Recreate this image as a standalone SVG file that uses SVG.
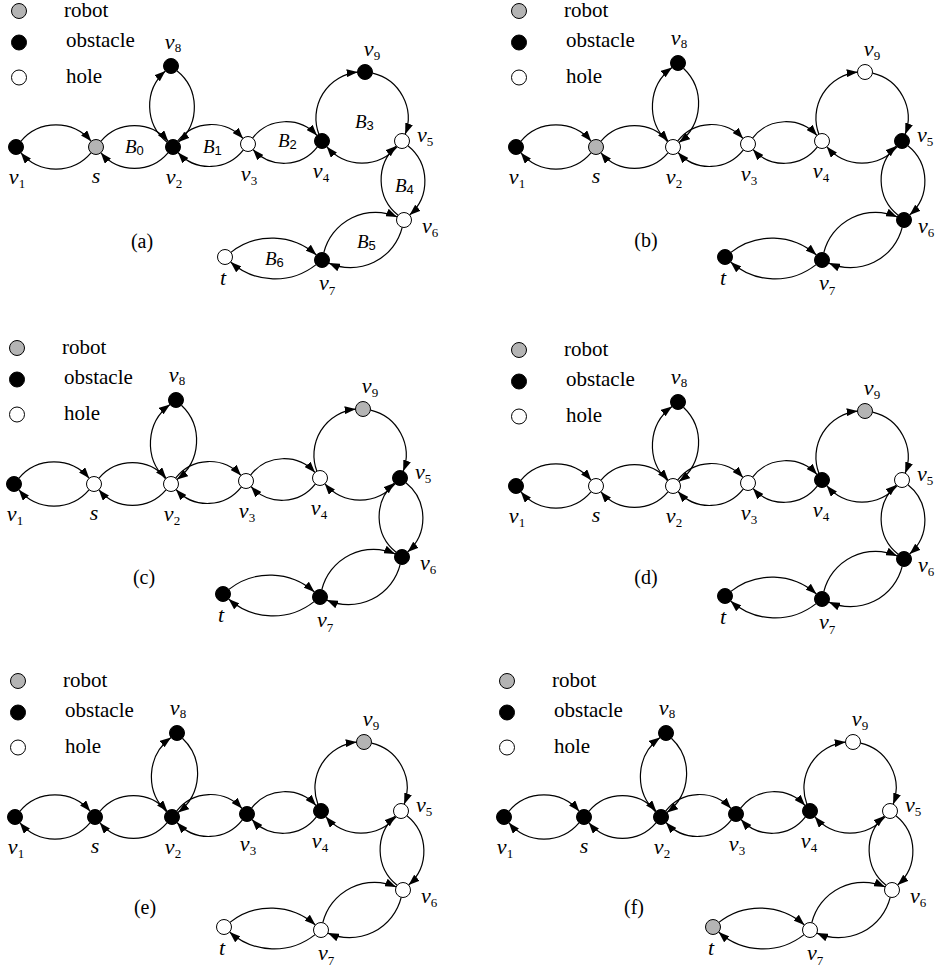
<svg xmlns="http://www.w3.org/2000/svg" xmlns:xlink="http://www.w3.org/1999/xlink" width="936" height="969" viewBox="0 0 936 969">
<style>
.e{fill:none;stroke:#000;stroke-width:1.2;marker-end:url(#ah)}
.n{stroke:#000;stroke-width:1}
.ob{fill:#000}
.ho{fill:#fff}
.ro{fill:#b4b4b4}
.lbl{font-family:"Liberation Serif","Times New Roman",serif;font-style:italic;font-size:22px}
.mid{text-anchor:middle}
.sub{font-style:normal;font-size:13px}
.leg{font-family:"Liberation Serif","Times New Roman",serif;font-size:21px}
.cap{font-family:"Liberation Serif","Times New Roman",serif;font-size:20px;text-anchor:middle}
.B{font-family:"Liberation Serif","Times New Roman",serif;font-style:italic;font-size:19px}
.Bs{font-family:"Liberation Sans",Arial,sans-serif;font-style:normal;font-size:13px}
</style>
<defs>
<marker id="ah" markerUnits="userSpaceOnUse" markerWidth="11" markerHeight="8" refX="11" refY="4" orient="auto" viewBox="0 0 11 8"><path d="M0,0L11,4L0,8z" fill="#000"/></marker>
<g id="edges-common">
<path class="e" d="M18.8,141.3 A45.9,45.9 0 0 1 89.2,141.3"/>
<path class="e" d="M89.2,152.7 A45.9,45.9 0 0 1 18.8,152.7"/>
<path class="e" d="M98.8,141.3 A44,44 0 0 1 166.2,141.3"/>
<path class="e" d="M166.2,152.7 A44,44 0 0 1 98.8,152.7"/>
<path class="e" d="M175.6,141.1 A42.7,42.7 0 0 1 241,138.5"/>
<path class="e" d="M241.4,149.9 A42.7,42.7 0 0 1 176,152.5"/>
<path class="e" d="M250.6,138.1 A42,42 0 0 1 315,135.5"/>
<path class="e" d="M315.4,146.9 A42,42 0 0 1 251,149.5"/>
<path class="e" d="M395.2,146.7 A45.9,45.9 0 0 1 324.8,146.7"/>
<path class="e" d="M405.9,145.7 A45.3,45.3 0 0 1 407.6,215"/>
<path class="e" d="M396.1,215.3 A45.3,45.3 0 0 1 394.4,146"/>
<path class="e" d="M321.8,252.7 A53.3,53.3 0 0 1 395.1,216.9"/>
<path class="e" d="M400.2,227.3 A53.3,53.3 0 0 1 326.9,263.1"/>
<path class="e" d="M228.9,252.4 A66.5,66.5 0 0 1 314.4,255"/>
<path class="e" d="M314.1,264.6 A66.5,66.5 0 0 1 228.6,262"/>
<path class="e" d="M316.9,134.3 A46.1,46.1 0 0 1 355.7,72.1"/>
<path class="e" d="M370.6,73.1 A46.1,46.1 0 0 1 403.2,134.2"/>
</g>
<g id="edges-v8">
<path class="e" d="M165.6,141.8 A48.6,48.6 0 0 1 170,67.5"/>
<path class="e" d="M181.4,68.2 A48.6,48.6 0 0 1 177,142.5"/>
</g>
<g id="legend">
<circle class="n ro" cx="17" cy="11" r="7.5"/>
<circle class="n ob" cx="17" cy="42.5" r="7.5"/>
<circle class="n ho" cx="17" cy="77.5" r="7.5"/>
<text class="leg" x="62" y="17">robot</text>
<text class="leg" x="64" y="47">obstacle</text>
<text class="leg" x="64" y="83">hole</text>
</g>
</defs>

<!-- Panel (a) -->
<g id="panel-a" transform="translate(2,0)">
<use href="#legend" xlink:href="#legend"/>
<g id="a-connectors">
<use href="#edges-common" xlink:href="#edges-common"/>
<path class="e" d="M165.1,142.3 A46.6,46.6 0 0 1 163.4,71"/>
<path class="e" d="M174.9,70.7 A46.6,46.6 0 0 1 176.6,142"/>
</g>
<g id="a-v1"><circle class="n ob" cx="14" cy="147" r="7.5"/><text class="lbl mid" x="15" y="184">v<tspan class="sub" dy="4">1</tspan></text></g>
<g id="a-s"><circle class="n ro" cx="94" cy="147" r="7.5"/><text class="lbl mid" x="94" y="183">s</text></g>
<g id="a-v2"><circle class="n ob" cx="171" cy="147" r="7.5"/><text class="lbl mid" x="172" y="184">v<tspan class="sub" dy="4">2</tspan></text></g>
<g id="a-v8"><circle class="n ob" cx="169" cy="66" r="7.5"/><text class="lbl mid" x="171" y="49">v<tspan class="sub" dy="3">8</tspan></text></g>
<g id="a-v3"><circle class="n ho" cx="246" cy="144" r="7.5"/><text class="lbl mid" x="247" y="181">v<tspan class="sub" dy="4">3</tspan></text></g>
<g id="a-v4"><circle class="n ob" cx="320" cy="141" r="7.5"/><text class="lbl mid" x="319" y="178">v<tspan class="sub" dy="4">4</tspan></text></g>
<g id="a-v9"><circle class="n ob" cx="363" cy="72" r="7.5"/><text class="lbl mid" x="370" y="56">v<tspan class="sub" dy="4">9</tspan></text></g>
<g id="a-v5"><circle class="n ho" cx="400" cy="141" r="7.5"/><text class="lbl" x="415" y="142">v<tspan class="sub" dy="4">5</tspan></text></g>
<g id="a-v6"><circle class="n ho" cx="402" cy="220" r="7.5"/><text class="lbl" x="420" y="233">v<tspan class="sub" dy="4">6</tspan></text></g>
<g id="a-v7"><circle class="n ob" cx="320" cy="260" r="7.5"/><text class="lbl" x="317" y="290">v<tspan class="sub" dy="5">7</tspan></text></g>
<g id="a-t"><circle class="n ho" cx="223" cy="257" r="7.5"/><text class="lbl mid" x="221" y="285">t</text></g>
<g id="a-blocks">
<text class="B" x="123" y="153">B<tspan class="Bs" dy="2">0</tspan></text>
<text class="B" x="201" y="153">B<tspan class="Bs" dy="2">1</tspan></text>
<text class="B" x="276" y="147">B<tspan class="Bs" dy="2">2</tspan></text>
<text class="B" x="353" y="128">B<tspan class="Bs" dy="2">3</tspan></text>
<text class="B" x="393" y="192">B<tspan class="Bs" dy="2">4</tspan></text>
<text class="B" x="355" y="248">B<tspan class="Bs" dy="2">5</tspan></text>
<text class="B" x="263" y="265">B<tspan class="Bs" dy="2">6</tspan></text>
</g>
<text class="cap" x="140" y="248">(a)</text>
</g>

<!-- Panel (b) -->
<g id="panel-b" transform="translate(502,0)">
<use href="#legend" xlink:href="#legend"/>
<g id="b-connectors"><use href="#edges-common" xlink:href="#edges-common"/><use href="#edges-v8" xlink:href="#edges-v8"/></g>
<g id="b-v1"><circle class="n ob" cx="14" cy="147" r="7.5"/><text class="lbl mid" x="15" y="184">v<tspan class="sub" dy="4">1</tspan></text></g>
<g id="b-s"><circle class="n ro" cx="94" cy="147" r="7.5"/><text class="lbl mid" x="94" y="183">s</text></g>
<g id="b-v2"><circle class="n ho" cx="171" cy="147" r="7.5"/><text class="lbl mid" x="172" y="184">v<tspan class="sub" dy="4">2</tspan></text></g>
<g id="b-v8"><circle class="n ob" cx="176" cy="63" r="7.5"/><text class="lbl mid" x="177" y="45">v<tspan class="sub" dy="3">8</tspan></text></g>
<g id="b-v3"><circle class="n ho" cx="246" cy="144" r="7.5"/><text class="lbl mid" x="247" y="181">v<tspan class="sub" dy="4">3</tspan></text></g>
<g id="b-v4"><circle class="n ho" cx="320" cy="141" r="7.5"/><text class="lbl mid" x="319" y="178">v<tspan class="sub" dy="4">4</tspan></text></g>
<g id="b-v9"><circle class="n ho" cx="363" cy="72" r="7.5"/><text class="lbl mid" x="370" y="56">v<tspan class="sub" dy="4">9</tspan></text></g>
<g id="b-v5"><circle class="n ob" cx="400" cy="141" r="7.5"/><text class="lbl" x="415" y="142">v<tspan class="sub" dy="4">5</tspan></text></g>
<g id="b-v6"><circle class="n ob" cx="402" cy="220" r="7.5"/><text class="lbl" x="416" y="233">v<tspan class="sub" dy="4">6</tspan></text></g>
<g id="b-v7"><circle class="n ob" cx="320" cy="260" r="7.5"/><text class="lbl" x="317" y="290">v<tspan class="sub" dy="5">7</tspan></text></g>
<g id="b-t"><circle class="n ob" cx="223" cy="257" r="7.5"/><text class="lbl mid" x="221" y="285">t</text></g>
<text class="cap" x="144" y="247">(b)</text>
</g>

<!-- Panel (c) -->
<g id="panel-c" transform="translate(0,337)">
<use href="#legend" xlink:href="#legend"/>
<g id="c-connectors"><use href="#edges-common" xlink:href="#edges-common"/><use href="#edges-v8" xlink:href="#edges-v8"/></g>
<g id="c-v1"><circle class="n ob" cx="14" cy="147" r="7.5"/><text class="lbl mid" x="15" y="184">v<tspan class="sub" dy="4">1</tspan></text></g>
<g id="c-s"><circle class="n ho" cx="94" cy="147" r="7.5"/><text class="lbl mid" x="94" y="183">s</text></g>
<g id="c-v2"><circle class="n ho" cx="171" cy="147" r="7.5"/><text class="lbl mid" x="172" y="184">v<tspan class="sub" dy="4">2</tspan></text></g>
<g id="c-v8"><circle class="n ob" cx="176" cy="63" r="7.5"/><text class="lbl mid" x="177" y="45">v<tspan class="sub" dy="3">8</tspan></text></g>
<g id="c-v3"><circle class="n ho" cx="246" cy="144" r="7.5"/><text class="lbl mid" x="247" y="181">v<tspan class="sub" dy="4">3</tspan></text></g>
<g id="c-v4"><circle class="n ho" cx="320" cy="141" r="7.5"/><text class="lbl mid" x="319" y="178">v<tspan class="sub" dy="4">4</tspan></text></g>
<g id="c-v9"><circle class="n ro" cx="363" cy="72" r="7.5"/><text class="lbl mid" x="370" y="56">v<tspan class="sub" dy="4">9</tspan></text></g>
<g id="c-v5"><circle class="n ob" cx="400" cy="141" r="7.5"/><text class="lbl" x="415" y="142">v<tspan class="sub" dy="4">5</tspan></text></g>
<g id="c-v6"><circle class="n ob" cx="402" cy="220" r="7.5"/><text class="lbl" x="420" y="233">v<tspan class="sub" dy="4">6</tspan></text></g>
<g id="c-v7"><circle class="n ob" cx="320" cy="260" r="7.5"/><text class="lbl" x="317" y="290">v<tspan class="sub" dy="5">7</tspan></text></g>
<g id="c-t"><circle class="n ob" cx="223" cy="257" r="7.5"/><text class="lbl mid" x="221" y="285">t</text></g>
<text class="cap" x="144" y="247">(c)</text>
</g>

<!-- Panel (d) -->
<g id="panel-d" transform="translate(502,339)">
<use href="#legend" xlink:href="#legend"/>
<g id="d-connectors"><use href="#edges-common" xlink:href="#edges-common"/><use href="#edges-v8" xlink:href="#edges-v8"/></g>
<g id="d-v1"><circle class="n ob" cx="14" cy="147" r="7.5"/><text class="lbl mid" x="15" y="184">v<tspan class="sub" dy="4">1</tspan></text></g>
<g id="d-s"><circle class="n ho" cx="94" cy="147" r="7.5"/><text class="lbl mid" x="94" y="183">s</text></g>
<g id="d-v2"><circle class="n ho" cx="171" cy="147" r="7.5"/><text class="lbl mid" x="172" y="184">v<tspan class="sub" dy="4">2</tspan></text></g>
<g id="d-v8"><circle class="n ob" cx="176" cy="63" r="7.5"/><text class="lbl mid" x="177" y="45">v<tspan class="sub" dy="3">8</tspan></text></g>
<g id="d-v3"><circle class="n ho" cx="246" cy="144" r="7.5"/><text class="lbl mid" x="247" y="181">v<tspan class="sub" dy="4">3</tspan></text></g>
<g id="d-v4"><circle class="n ob" cx="320" cy="141" r="7.5"/><text class="lbl mid" x="319" y="178">v<tspan class="sub" dy="4">4</tspan></text></g>
<g id="d-v9"><circle class="n ro" cx="363" cy="72" r="7.5"/><text class="lbl mid" x="370" y="56">v<tspan class="sub" dy="4">9</tspan></text></g>
<g id="d-v5"><circle class="n ho" cx="400" cy="141" r="7.5"/><text class="lbl" x="415" y="142">v<tspan class="sub" dy="4">5</tspan></text></g>
<g id="d-v6"><circle class="n ob" cx="402" cy="220" r="7.5"/><text class="lbl" x="416" y="233">v<tspan class="sub" dy="4">6</tspan></text></g>
<g id="d-v7"><circle class="n ob" cx="320" cy="260" r="7.5"/><text class="lbl" x="317" y="290">v<tspan class="sub" dy="5">7</tspan></text></g>
<g id="d-t"><circle class="n ob" cx="223" cy="257" r="7.5"/><text class="lbl mid" x="221" y="285">t</text></g>
<text class="cap" x="144" y="245">(d)</text>
</g>

<!-- Panel (e) -->
<g id="panel-e" transform="translate(1,670)">
<use href="#legend" xlink:href="#legend"/>
<g id="e-connectors"><use href="#edges-common" xlink:href="#edges-common"/><use href="#edges-v8" xlink:href="#edges-v8"/></g>
<g id="e-v1"><circle class="n ob" cx="14" cy="147" r="7.5"/><text class="lbl mid" x="15" y="184">v<tspan class="sub" dy="4">1</tspan></text></g>
<g id="e-s"><circle class="n ob" cx="94" cy="147" r="7.5"/><text class="lbl mid" x="94" y="183">s</text></g>
<g id="e-v2"><circle class="n ob" cx="171" cy="147" r="7.5"/><text class="lbl mid" x="172" y="184">v<tspan class="sub" dy="4">2</tspan></text></g>
<g id="e-v8"><circle class="n ob" cx="176" cy="63" r="7.5"/><text class="lbl mid" x="177" y="45">v<tspan class="sub" dy="3">8</tspan></text></g>
<g id="e-v3"><circle class="n ob" cx="246" cy="144" r="7.5"/><text class="lbl mid" x="247" y="181">v<tspan class="sub" dy="4">3</tspan></text></g>
<g id="e-v4"><circle class="n ob" cx="320" cy="141" r="7.5"/><text class="lbl mid" x="319" y="178">v<tspan class="sub" dy="4">4</tspan></text></g>
<g id="e-v9"><circle class="n ro" cx="363" cy="72" r="7.5"/><text class="lbl mid" x="370" y="56">v<tspan class="sub" dy="4">9</tspan></text></g>
<g id="e-v5"><circle class="n ho" cx="400" cy="141" r="7.5"/><text class="lbl" x="415" y="142">v<tspan class="sub" dy="4">5</tspan></text></g>
<g id="e-v6"><circle class="n ho" cx="402" cy="220" r="7.5"/><text class="lbl" x="420" y="233">v<tspan class="sub" dy="4">6</tspan></text></g>
<g id="e-v7"><circle class="n ho" cx="320" cy="260" r="7.5"/><text class="lbl" x="317" y="290">v<tspan class="sub" dy="5">7</tspan></text></g>
<g id="e-t"><circle class="n ho" cx="223" cy="257" r="7.5"/><text class="lbl mid" x="221" y="285">t</text></g>
<text class="cap" x="144" y="244">(e)</text>
</g>

<!-- Panel (f) -->
<g id="panel-f" transform="translate(490,670)">
<use href="#legend" xlink:href="#legend"/>
<g id="f-connectors"><use href="#edges-common" xlink:href="#edges-common"/><use href="#edges-v8" xlink:href="#edges-v8"/></g>
<g id="f-v1"><circle class="n ob" cx="14" cy="147" r="7.5"/><text class="lbl mid" x="15" y="184">v<tspan class="sub" dy="4">1</tspan></text></g>
<g id="f-s"><circle class="n ob" cx="94" cy="147" r="7.5"/><text class="lbl mid" x="94" y="183">s</text></g>
<g id="f-v2"><circle class="n ob" cx="171" cy="147" r="7.5"/><text class="lbl mid" x="172" y="184">v<tspan class="sub" dy="4">2</tspan></text></g>
<g id="f-v8"><circle class="n ob" cx="176" cy="63" r="7.5"/><text class="lbl mid" x="177" y="45">v<tspan class="sub" dy="3">8</tspan></text></g>
<g id="f-v3"><circle class="n ob" cx="246" cy="144" r="7.5"/><text class="lbl mid" x="247" y="181">v<tspan class="sub" dy="4">3</tspan></text></g>
<g id="f-v4"><circle class="n ob" cx="320" cy="141" r="7.5"/><text class="lbl mid" x="319" y="178">v<tspan class="sub" dy="4">4</tspan></text></g>
<g id="f-v9"><circle class="n ho" cx="363" cy="72" r="7.5"/><text class="lbl mid" x="370" y="56">v<tspan class="sub" dy="4">9</tspan></text></g>
<g id="f-v5"><circle class="n ho" cx="400" cy="141" r="7.5"/><text class="lbl" x="415" y="142">v<tspan class="sub" dy="4">5</tspan></text></g>
<g id="f-v6"><circle class="n ho" cx="402" cy="220" r="7.5"/><text class="lbl" x="420" y="233">v<tspan class="sub" dy="4">6</tspan></text></g>
<g id="f-v7"><circle class="n ho" cx="320" cy="260" r="7.5"/><text class="lbl" x="317" y="290">v<tspan class="sub" dy="5">7</tspan></text></g>
<g id="f-t"><circle class="n ro" cx="223" cy="257" r="7.5"/><text class="lbl mid" x="221" y="285">t</text></g>
<text class="cap" x="144" y="244">(f)</text>
</g>
</svg>
